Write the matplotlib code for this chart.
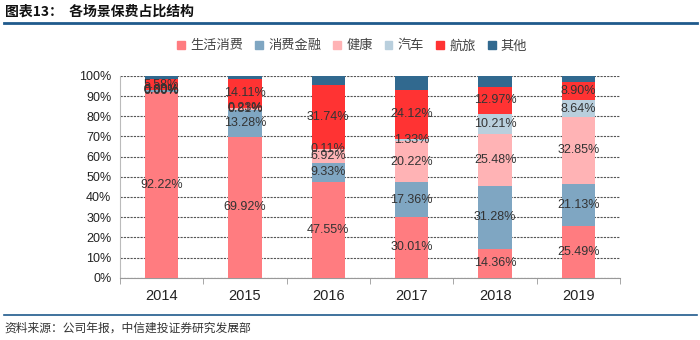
import matplotlib.pyplot as plt
import numpy as np
from matplotlib.lines import Line2D
from matplotlib.patches import Patch

plt.rcParams['font.family'] = ['Noto Sans CJK SC', 'DejaVu Sans']

# data (%)
years = ['2014', '2015', '2016', '2017', '2018', '2019']
series = ['生活消费', '消费金融', '健康', '汽车', '航旅', '其他']
life = [92.22, 69.92, 47.55, 30.01, 14.36, 25.49]
finance = [0.60, 13.28, 9.33, 17.36, 31.28, 21.13]
health = [0.00, 0.81, 6.92, 20.22, 25.48, 32.85]
auto = [0.00, 0.23, 0.11, 1.33, 10.21, 8.64]
travel = [5.58, 14.11, 31.74, 24.12, 12.97, 8.90]
other = [1.60, 1.65, 4.35, 6.96, 5.70, 2.99]

colors = ['#FF7C80', '#7FA6C2', '#FFB3B5', '#B9CFDD', '#FF3333', '#31698F']
labelled = [True, True, True, True, True, False]

fig = plt.figure(figsize=(7, 3.4), dpi=100)
ax = fig.add_axes([0.171, 0.183, 0.715, 0.594])

x = np.arange(len(years))
bottom = np.zeros(len(years))
data = [life, finance, health, auto, travel, other]
for vals, col, name, lab in zip(data, colors, series, labelled):
    vals = np.array(vals)
    ax.bar(x, vals, 0.4, bottom=bottom, color=col, label=name, zorder=3)
    if lab:
        for xi, b, v in zip(x, bottom, vals):
            ax.text(xi, b + v / 2, f'{v:.2f}%', ha='center', va='center',
                    fontsize=9, color='#333333', zorder=4,
                    family=['Liberation Sans', 'DejaVu Sans'])
    bottom += vals

ax.set_xlim(-0.5, len(years) - 0.5)
ax.set_ylim(0, 100)
ax.set_yticks(np.arange(0, 101, 10))
ax.set_yticklabels([f'{v}%' for v in range(0, 101, 10)],
                   family=['Liberation Sans', 'DejaVu Sans'], fontsize=9, color='#222222')
ax.set_xticks(x)
ax.set_xticklabels(years, family=['Liberation Sans', 'DejaVu Sans'], fontsize=10.5, color='#222222')
ax.set_xticks(np.arange(-0.5, len(years), 1), minor=True)
ax.tick_params(axis='x', which='major', length=0, pad=8)
ax.tick_params(axis='x', which='minor', length=4, color='#999999')
ax.tick_params(axis='y', length=0, pad=6)
ax.yaxis.grid(True, linestyle=(0, (2, 1)), color='#555555', linewidth=0.8, zorder=0)
for s in ['top', 'right']:
    ax.spines[s].set_visible(False)
ax.spines['left'].set_color('#BBBBBB')
ax.spines['bottom'].set_color('#999999')

handles = [Patch(color=c, label=n) for c, n in zip(colors, series)]
fig.legend(handles=handles, loc='center', bbox_to_anchor=(0.503, 0.865), ncol=6,
           frameon=False, fontsize=9.5, handlelength=0.6, handleheight=0.6,
           handletextpad=0.4, columnspacing=0.9, labelcolor='#444444')

# header and footer
fig.text(0.007, 0.965, '图表13：  各场景保费占比结构', fontsize=10, fontweight='bold',
         va='center', ha='left', color='#111111')
fig.add_artist(Line2D([0.005, 0.995], [0.932, 0.932], color='#1F5A8C', linewidth=2))
fig.add_artist(Line2D([0.005, 0.995], [0.073, 0.073], color='#1F5A8C', linewidth=1.2))
fig.text(0.007, 0.035, '资料来源：公司年报，中信建投证券研究发展部', fontsize=8.5,
         style='italic', va='center', ha='left', color='#333333')

fig.savefig('out.png', dpi=100)
